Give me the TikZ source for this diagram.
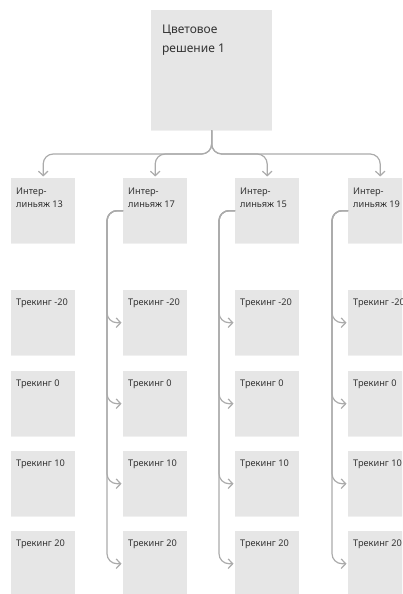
\documentclass[tikz,border=0pt]{standalone}
\usepackage{fontspec}
\setmainfont{Noto Sans}
\usetikzlibrary{arrows.meta,positioning,shadows}
\definecolor{boxgray}{HTML}{E6E6E6}
\definecolor{linegray}{HTML}{ABABAB}
\definecolor{textgray}{HTML}{333333}
\tikzset{
  card/.style={rectangle, fill=boxgray, draw=none, inner sep=0pt, anchor=north west,
    minimum width=64pt, minimum height=65pt,
    drop shadow={opacity=0.12, shadow xshift=0pt, shadow yshift=-1pt}},
  cardtext/.style={anchor=north west, inner sep=0pt, align=left, text=textgray,
    font=\fontsize{9.2}{13.5}\selectfont},
  link/.style={draw=linegray, line width=1.2pt, rounded corners=10pt,
    -{Straight Barb[length=4.5pt,width=9.5pt]}, shorten >=1.5pt}
}
\begin{document}
\begin{tikzpicture}[x=1pt,y=-1pt]
\clip (0,0) rectangle (402,594);
\node[card, minimum width=121pt, minimum height=120pt] (cs) at (151,10) {};
\node[cardtext, font=\fontsize{12}{18.5}\selectfont, below right=15pt and 11pt of cs.north west] (cslb) {Цветовое\\решение 1};

% columns: interlinear boxes and tracking boxes below them
\foreach \x/\n in {11/13, 123/17, 235/15, 348/19} {
  \node[card] (il\n) at (\x,178) {};
  \node[cardtext, below right=9.5pt and 5pt of il\n.north west] (lb\n) {Интер-\\линьяж \n};
  \foreach \y/\t/\k in {290/-20/a, 371/0/b, 451/10/c, 531/20/d} {
    \node[card] (tr\n\k) at (\x,\y) {};
    \node[cardtext, below right=9pt and 5pt of tr\n\k.north west] (lb\n\k) {Трекинг \t};
  }
  \draw[link] (cs.south) |- (il\n.north |- 0,154) -- (il\n.north);
}

% side links
\foreach \n in {17,15,19}
  \foreach \k in {a,b,c,d}
    \draw[link] (il\n.west) -- ++(-16,0) |- (tr\n\k.west);
\end{tikzpicture}
\end{document}
